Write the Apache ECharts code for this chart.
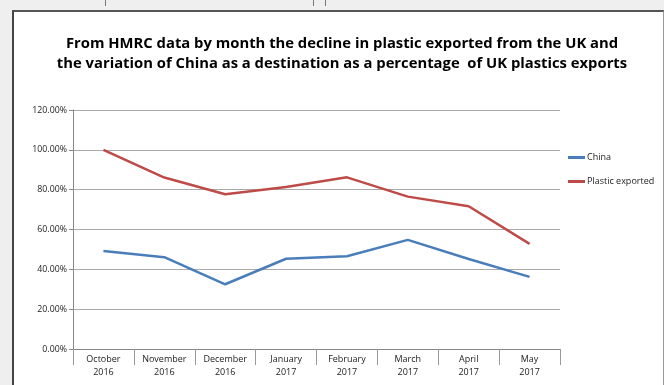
<!DOCTYPE html>
<html>
<head>
<meta charset="utf-8">
<script src="https://cdn.jsdelivr.net/npm/echarts@6/dist/echarts.min.js"></script>
<style>
  html, body { margin: 0; padding: 0; background: #efefef; }
  #wrap { position: relative; width: 664px; height: 385px; overflow: hidden; }
  #box {
    position: absolute; left: 12px; top: 10px; width: 649px; height: 380px;
    background: #fff; border-left: 2px solid #444; border-top: 2px solid #555; border-right: 1px solid #999;
  }
  .mark { position: absolute; top: 0; width: 1px; height: 6px; background: #777; }
  #chart { position: absolute; left: 0; top: 0; width: 664px; height: 385px; }
</style>
</head>
<body>
<div id="wrap">
  <div class="mark" style="left:105px"></div>
  <div class="mark" style="left:313px"></div>
  <div class="mark" style="left:325px"></div>
  <div id="box"></div>
  <div id="chart"></div>
</div>
<script>
// months on the x axis
const months = ['October\n2016', 'November\n2016', 'December\n2016', 'January\n2017',
  'February\n2017', 'March\n2017', 'April\n2017', 'May\n2017']
// share of UK plastics exports going to China
const china = [0.492, 0.461, 0.325, 0.453, 0.466, 0.548, 0.452, 0.362]
// plastic exported, relative to October 2016
const plasticExported = [1.0, 0.861, 0.777, 0.813, 0.862, 0.765, 0.717, 0.528]

const chart = echarts.init(document.getElementById('chart'))

chart.setOption({
  backgroundColor: 'transparent',
  animation: false,
  title: {
    text: 'From HMRC data by month the decline in plastic exported from the UK and\nthe variation of China as a destination as a percentage  of UK plastics exports',
    left: 337,
    top: 29,
    textAlign: 'center',
    textStyle: {
      fontFamily: 'Open Sans',
      fontWeight: 'bold',
      fontSize: 14.8,
      lineHeight: 20,
      color: '#000'
    }
  },
  legend: {
    orient: 'vertical',
    left: 563,
    top: 148,
    itemGap: 15,
    itemWidth: 17,
    itemHeight: 3,
    icon: 'rect',
    textStyle: { fontFamily: 'Open Sans', fontSize: 9, color: '#222', padding: [0, 0, 0, -3] },
    data: ['China', 'Plastic exported']
  },
  grid: { left: 73, right: 104, top: 110, bottom: 36 },
  xAxis: {
    type: 'category',
    data: months,
    axisLine: { lineStyle: { color: '#888', width: 1 } },
    axisTick: { show: true, length: 16, lineStyle: { color: '#999' } },
    axisLabel: {
      fontFamily: 'Open Sans',
      fontSize: 9,
      color: '#222',
      lineHeight: 13,
      margin: 4,
      interval: 0
    }
  },
  yAxis: {
    type: 'value',
    min: 0,
    max: 1.2,
    interval: 0.2,
    axisLine: { show: true, lineStyle: { color: '#888' } },
    axisTick: { show: true, length: 4, lineStyle: { color: '#888' } },
    splitLine: { lineStyle: { color: '#aaa', width: 1 } },
    axisLabel: {
      fontFamily: 'Open Sans',
      fontSize: 8.8,
      color: '#222',
      margin: 6,
      formatter: v => (v * 100).toFixed(2) + '%'
    }
  },
  series: [
    {
      name: 'China',
      type: 'line',
      data: china,
      symbol: 'none',
      lineStyle: { color: '#4a7ebb', width: 2.5 },
      itemStyle: { color: '#4a7ebb' }
    },
    {
      name: 'Plastic exported',
      type: 'line',
      data: plasticExported,
      symbol: 'none',
      lineStyle: { color: '#be4b48', width: 2.5 },
      itemStyle: { color: '#be4b48' }
    }
  ]
})
</script>
</body>
</html>
